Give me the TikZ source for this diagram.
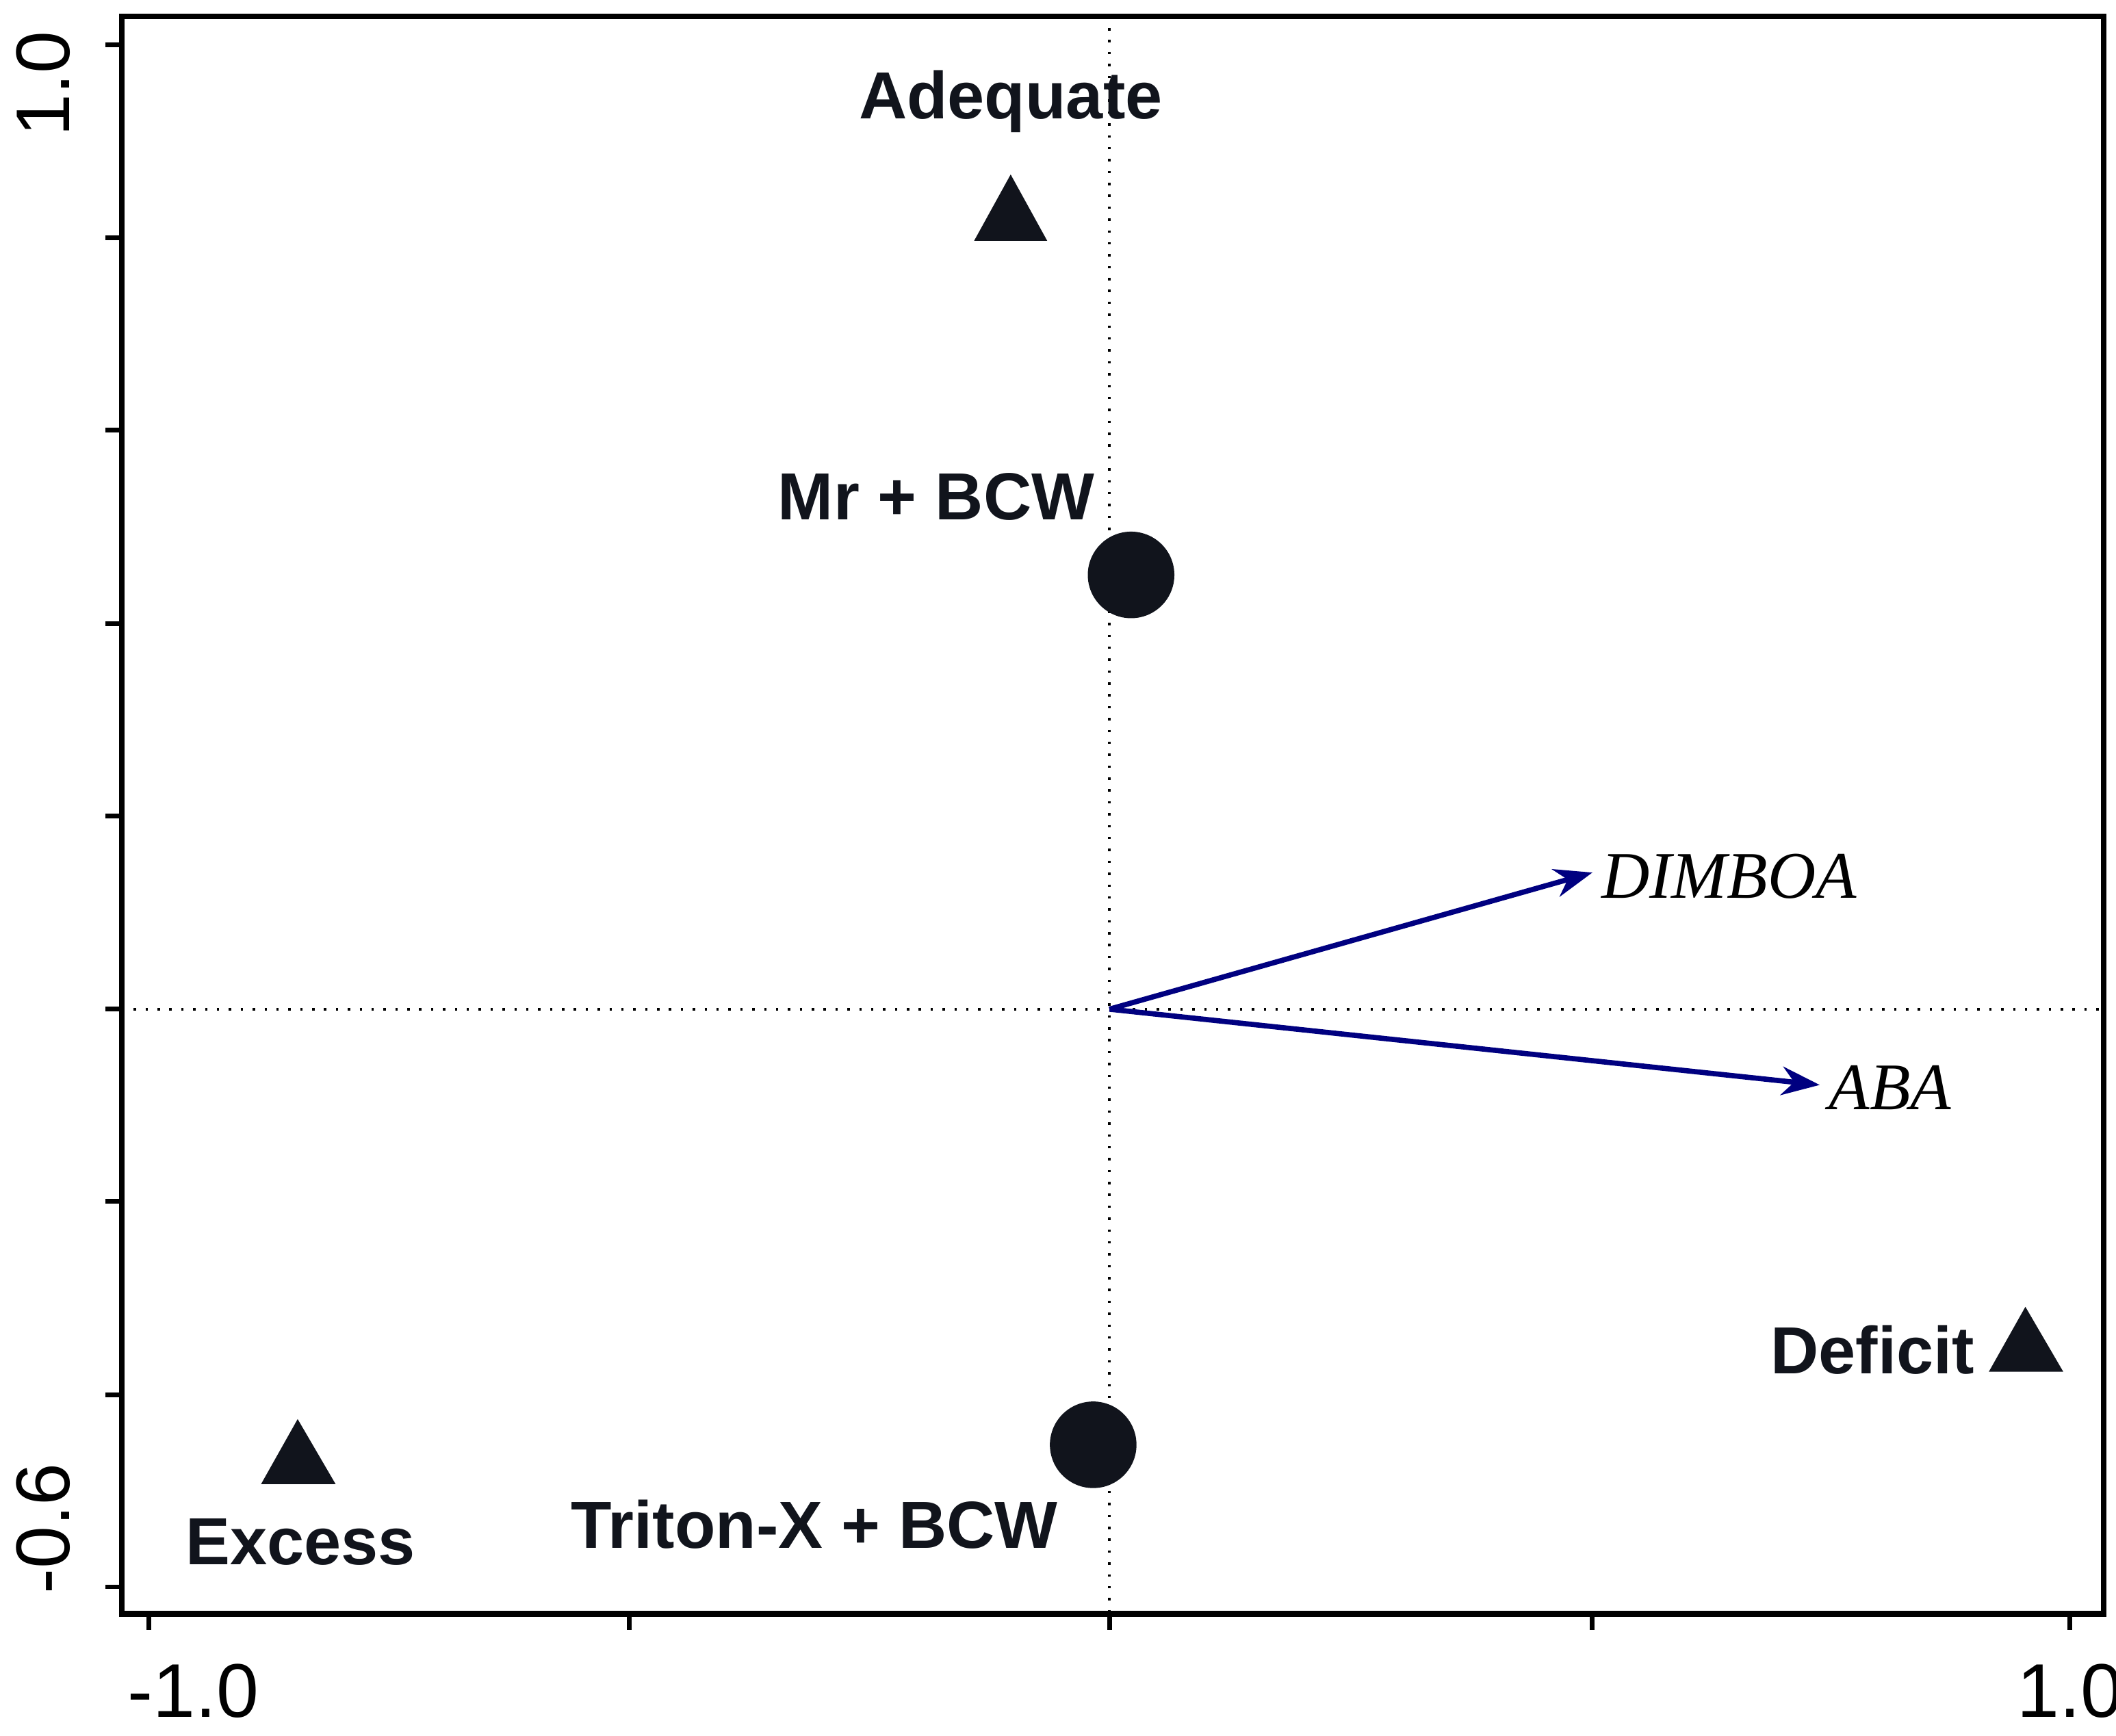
\documentclass[tikz,border=0pt]{standalone}
\usepackage{fontspec}
\setmainfont{Liberation Sans}
\newfontfamily\tms{Liberation Serif}
\usetikzlibrary{arrows.meta}
\definecolor{ink}{HTML}{11141C}
\definecolor{arr}{HTML}{000080}
\begin{document}
\begin{tikzpicture}[x=0.01cm,y=-0.01cm,
  lab/.style={font=\fontsize{14}{14}\selectfont\bfseries,text=ink,inner sep=0},
  vl/.style={font=\fontsize{14}{14}\selectfont\itshape\tms,inner sep=0},
  tri/.style={fill=ink},
  vec/.style={arr,line width=1.1pt,-{Stealth[length=8pt,width=6pt]}},
  tk/.style={line width=1pt},
  tl/.style={font=\fontsize{16}{16}\selectfont,inner sep=0}]
\useasboundingbox (0,0) rectangle (1564,1283);
\draw[line width=1.2pt] (90,12) rectangle (1555,1193);
\draw[dotted,line width=0.5pt] (820,12) -- (820,1193);
\draw[dotted,line width=0.5pt] (90,746) -- (1555,746);
\foreach \x in {110,465,820,1177,1530} \draw[tk] (\x,1193) -- (\x,1205);
\foreach \y in {33,176,318,461,603,746,888,1031,1173} \draw[tk] (90,\y) -- (78,\y);
\node[tl] (xa) at (143,1250) {-1.0};
\node[tl] (xb) at (1530,1250) {1.0};
\node[tl,rotate=90] (ya) at (32,62) {1.0};
\node[tl,rotate=90] (yb) at (32,1130) {-0.6};
\fill[tri] (720,178) -- (774,178) -- (747,129) -- cycle;
\fill[tri] (1470,1014) -- (1525,1014) -- (1497,966) -- cycle;
\fill[tri] (193,1097) -- (248,1097) -- (220,1049) -- cycle;
\fill[ink] (836,425) circle (32);
\fill[ink] (808,1068) circle (32);
\node[lab] (ad) at (747,75) {Adequate};
\node[lab] (mr) at (692,367) {Mr + BCW};
\node[lab] (de) at (1384,998) {Deficit};
\node[lab] (ex) at (222,1140) {Excess};
\node[lab] (tr) at (602,1127) {Triton-X + BCW};
\coordinate (o) at (820,746);
\coordinate (d) at (1177,645);
\coordinate (a) at (1345,802);
\draw[vec] (o) -- (d);
\draw[vec] (o) -- (a);
\node[vl] (dl) at (1278,648) {DIMBOA};
\node[vl] (al) at (1397,804) {ABA};
\end{tikzpicture}
\end{document}
